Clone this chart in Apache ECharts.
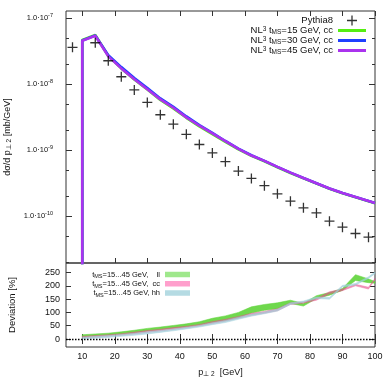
<!DOCTYPE html>
<html>
<head>
<meta charset="utf-8">
<script src="https://cdn.jsdelivr.net/npm/echarts@6/dist/echarts.min.js"></script>
<style>
html,body{margin:0;padding:0;background:#fff}
#main{width:390px;height:390px}
</style>
</head>
<body>
<div id="main"></div>
<script>
'use strict';
// Pythia8 reference points (bin centres, mb/GeV)
var pyX = [7, 14, 18, 22, 26, 30, 34, 38, 42, 46, 50, 54, 58, 62, 66, 70, 74, 78, 82, 86, 90, 94, 98];
var pyY = [3.63e-8, 4.26e-8, 2.27e-8, 1.30e-8, 8.2e-9, 5.3e-9, 3.45e-9, 2.48e-9, 1.74e-9, 1.22e-9, 9.1e-10, 6.7e-10,
    4.82e-10, 3.73e-10, 2.9e-10, 2.18e-10, 1.69e-10, 1.34e-10, 1.12e-10, 8.4e-11, 6.8e-11, 5.46e-11, 4.8e-11];

// NL3 curves, first point is the drop at the 10 GeV cut
var nlX = [10, 10, 14, 18, 22, 26, 30, 34, 38, 42, 46, 50, 54, 58, 62, 66, 70, 74, 78, 82, 86, 90, 95, 100];
var nl15 = [1e-13, 4.7e-8, 5.6e-8, 2.68e-8, 1.74e-8, 1.18e-8, 8.3e-9, 5.8e-9, 4.3e-9, 3.1e-9, 2.3e-9, 1.76e-9, 1.34e-9,
    1.03e-9, 8.2e-10, 6.8e-10, 5.5e-10, 4.5e-10, 3.75e-10, 3.13e-10, 2.61e-10, 2.22e-10, 1.87e-10, 1.57e-10];
var nl30 = [1e-13, 4.6e-8, 5.5e-8, 2.75e-8, 1.82e-8, 1.24e-8, 8.8e-9, 6.1e-9, 4.55e-9, 3.25e-9, 2.4e-9, 1.83e-9, 1.38e-9,
    1.06e-9, 8.4e-10, 6.9e-10, 5.6e-10, 4.58e-10, 3.8e-10, 3.16e-10, 2.63e-10, 2.24e-10, 1.88e-10, 1.58e-10];
var nl45 = [1e-13, 4.57e-8, 5.43e-8, 2.65e-8, 1.74e-8, 1.19e-8, 8.4e-9, 5.9e-9, 4.4e-9, 3.15e-9, 2.35e-9, 1.8e-9, 1.37e-9,
    1.05e-9, 8.3e-10, 6.9e-10, 5.6e-10, 4.57e-10, 3.8e-10, 3.16e-10, 2.63e-10, 2.24e-10, 1.88e-10, 1.58e-10];

// deviation bands [%]
var devX = [10, 14, 18, 22, 26, 30, 34, 38, 42, 46, 50, 54, 58, 62, 66, 70, 74, 78, 82, 86, 90, 94, 98, 100];
var llLo = [8, 11, 14, 18, 23, 30, 35, 41, 46, 53, 62, 70, 80, 98, 108, 114, 134, 124, 152, 165, 183, 220, 212, 210];
var llHi = [16, 19, 22, 27, 33, 40, 45, 51, 57, 65, 78, 87, 100, 121, 130, 136, 146, 134, 163, 175, 190, 242, 226, 216];
var ccLo = [4, 7, 10, 14, 19, 25, 30, 36, 42, 49, 58, 67, 78, 89, 97, 106, 130, 135, 146, 170, 182, 200, 188, 224];
var ccHi = [10, 13, 16, 20, 26, 32, 37, 43, 48, 55, 66, 74, 85, 97, 104, 114, 136, 140, 152, 178, 188, 206, 195, 228];
var hhLo = [0, 3, 6, 10, 14, 19, 25, 31, 38, 45, 54, 62, 74, 86, 95, 105, 130, 138, 152, 150, 196, 203, 228, 246];
var hhHi = [7, 10, 13, 17, 22, 27, 32, 38, 44, 51, 61, 70, 82, 93, 102, 112, 136, 143, 158, 156, 202, 209, 234, 252];

var xTicks = [10, 20, 30, 40, 50, 60, 70, 80, 90, 100];
var yMajor = [1e-10, 1e-9, 1e-8, 1e-7];
var yMinor = [2e-11, 5e-11, 2e-10, 5e-10, 2e-9, 5e-9, 2e-8, 5e-8];
var devTicks = [0, 50, 100, 150, 200, 250];

var FONT = '"Liberation Sans", Arial, sans-serif';
var CROSS = 'path://M4.35,0H5.65V4.35H10V5.65H5.65V10H4.35V5.65H0V4.35H4.35Z';
var BAR3 = 'path://M0,0H28V3H0Z';
var BAR5 = 'path://M0,0H25V5.5H0Z';

function pairs(xs, ys) {
    return xs.map(function (x, i) { return [x, ys[i]]; });
}

var subRich = {
    n: {fontSize: 9, lineHeight: 11, color: '#111'},
    s: {fontSize: 6.5, lineHeight: 7, verticalAlign: 'bottom', color: '#111'}
};

function xAxisCfg(grid, pos, labels) {
    var ax = {
        type: 'value', gridIndex: grid, position: pos, min: 5, max: 100,
        axisLine: {show: false}, splitLine: {show: false},
        axisTick: {inside: true, length: 5, customValues: xTicks, lineStyle: {color: '#333'}},
        axisLabel: {show: false}
    };
    if (labels) {
        ax.axisLabel = {show: true, customValues: xTicks, fontSize: 9, color: '#111', margin: 5, fontFamily: FONT};
        ax.name = '{n|p}{s|\u22a5 2}{n|  [GeV]}';
        ax.nameLocation = 'middle';
        ax.nameGap = 20;
        ax.nameTextStyle = {fontFamily: FONT, rich: subRich};
    }
    return ax;
}

function logAxisCfg(pos, ticks, len, labels) {
    var ax = {
        type: 'log', gridIndex: 0, position: pos, min: 1.95e-11, max: 1.29e-7,
        axisLine: {show: false}, splitLine: {show: false}, minorTick: {show: false},
        axisTick: {inside: true, length: len, customValues: ticks, lineStyle: {color: '#333'}},
        axisLabel: {show: false}
    };
    if (labels) {
        ax.axisLabel = {
            show: true, customValues: ticks, margin: 13, fontFamily: FONT,
            formatter: function (v) {
                return '{b|1.0\u00b710}{e|' + Math.round(Math.log10(v)) + '}';
            },
            rich: {
                b: {fontSize: 7.5, lineHeight: 11, color: '#111', fontFamily: FONT},
                e: {fontSize: 5.5, lineHeight: 7, verticalAlign: 'top', color: '#111', fontFamily: FONT}
            }
        };
        ax.name = '{n|d\u03c3/d p}{s|\u22a5 2}{n| [mb/GeV]}';
        ax.nameLocation = 'middle';
        ax.nameGap = 45;
        ax.nameTextStyle = {fontFamily: FONT, rich: subRich};
    }
    return ax;
}

function devAxisCfg(pos, labels) {
    var ax = {
        type: 'value', gridIndex: 1, position: pos, min: -30, max: 286,
        axisLine: {show: false}, splitLine: {show: false},
        axisTick: {inside: true, length: 5, customValues: devTicks, lineStyle: {color: '#333'}},
        axisLabel: {show: false}
    };
    if (labels) {
        ax.axisLabel = {show: true, customValues: devTicks, fontSize: 9, color: '#111', margin: 6, fontFamily: FONT};
        ax.name = 'Deviation [%]';
        ax.nameLocation = 'middle';
        ax.nameGap = 49;
        ax.nameTextStyle = {fontFamily: FONT, fontSize: 9.5, color: '#111'};
    }
    return ax;
}

// one polygon per band, lower edge and upper edge through the axis scales
function bandSeries(key, lo, hi, legendColor, fillColor, opacity) {
    return {
        name: key, type: 'custom', xAxisIndex: 2, yAxisIndex: 4,
        itemStyle: {color: legendColor},
        data: [[devX[0], lo[0]]],
        z: 3,
        renderItem: function (params, api) {
            var pts = [];
            for (var i = 0; i < devX.length; i++) {
                pts.push(api.coord([devX[i], hi[i]]));
            }
            for (var j = devX.length - 1; j >= 0; j--) {
                pts.push(api.coord([devX[j], lo[j]]));
            }
            return {
                type: 'polygon',
                shape: {points: pts},
                style: {fill: fillColor, opacity: opacity, stroke: fillColor, lineWidth: 0.6}
            };
        }
    };
}

var names = {
    'Pythia8': '{n|Pythia8}',
    'nl15': '{n|NL}{p|3}{n| t}{s|MS}{n|=15 GeV, cc}',
    'nl30': '{n|NL}{p|3}{n| t}{s|MS}{n|=30 GeV, cc}',
    'nl45': '{n|NL}{p|3}{n| t}{s|MS}{n|=45 GeV, cc}',
    'll': '{n|t}{s|MS}{n|=15...45 GeV,    ll}',
    'cc': '{n|t}{s|MS}{n|=15...45 GeV,  cc}',
    'hh': '{n|t}{s|MS}{n|=15...45 GeV, hh}'
};
function legendText(name) { return names[name]; }

var series = [
    {
        name: 'Pythia8', type: 'scatter', xAxisIndex: 0, yAxisIndex: 0,
        symbol: CROSS, symbolSize: 10, itemStyle: {color: '#000'},
        data: pairs(pyX, pyY), z: 4
    },
    {
        name: 'nl15', type: 'line', xAxisIndex: 0, yAxisIndex: 0, symbol: 'none',
        itemStyle: {color: '#55ee11'}, lineStyle: {width: 2.6, color: '#55ee11'},
        data: pairs(nlX, nl15), z: 3
    },
    {
        name: 'nl30', type: 'line', xAxisIndex: 0, yAxisIndex: 0, symbol: 'none',
        itemStyle: {color: '#1f3fff'}, lineStyle: {width: 2.6, color: '#1f3fff'},
        data: pairs(nlX, nl30), z: 3
    },
    {
        name: 'nl45', type: 'line', xAxisIndex: 0, yAxisIndex: 0, symbol: 'none',
        itemStyle: {color: '#aa33ee'}, lineStyle: {width: 2.6, color: '#aa33ee'},
        data: pairs(nlX, nl45), z: 3
    },
    bandSeries('ll', llLo, llHi, '#9fe88c', '#5fd43a', 0.9),
    bandSeries('cc', ccLo, ccHi, '#ff9fcc', '#e8508e', 0.6),
    bandSeries('hh', hhLo, hhHi, '#b5dbe3', '#9fd0dc', 0.7)
];

// zero line on the deviation panel
series[4].markLine = {
    symbol: 'none', silent: true, label: {show: false},
    lineStyle: {color: '#000', width: 1.3, type: [1.5, 1.5]},
    data: [{yAxis: 0}]
};

var legendRich = {
    n: {fontSize: 9.5, lineHeight: 10, color: '#111', fontFamily: FONT},
    p: {fontSize: 6.5, lineHeight: 6, verticalAlign: 'top', color: '#111', fontFamily: FONT},
    s: {fontSize: 6.5, lineHeight: 6, verticalAlign: 'bottom', color: '#111', fontFamily: FONT}
};
var bandRich = {
    n: {fontSize: 7.5, lineHeight: 10.5, color: '#111', fontFamily: FONT},
    s: {fontSize: 5.5, lineHeight: 6, verticalAlign: 'bottom', color: '#111', fontFamily: FONT}
};

var option = {
    animation: false,
    backgroundColor: '#fff',
    textStyle: {fontFamily: FONT},
    grid: [
        {left: 66, right: 15, top: 11, height: 252, show: true, borderColor: '#333', borderWidth: 1,
            backgroundColor: 'transparent', outerBoundsMode: 'none'},
        {left: 66, right: 15, top: 263, height: 84, show: true, borderColor: '#333', borderWidth: 1,
            backgroundColor: 'transparent', outerBoundsMode: 'none'}
    ],
    xAxis: [
        xAxisCfg(0, 'bottom', false),
        xAxisCfg(0, 'top', false),
        xAxisCfg(1, 'bottom', true),
        xAxisCfg(1, 'top', false)
    ],
    yAxis: [
        logAxisCfg('left', yMajor, 6, true),
        logAxisCfg('left', yMinor, 3, false),
        logAxisCfg('right', yMajor, 6, false),
        logAxisCfg('right', yMinor, 3, false),
        devAxisCfg('left', true),
        devAxisCfg('right', false)
    ],
    legend: [
        {
            orient: 'vertical', right: 24, top: 15.5, align: 'right', padding: 0,
            itemWidth: 28, itemHeight: 10, itemGap: 0, selectedMode: false,
            itemStyle: {borderWidth: 0},
            data: [
                {name: 'Pythia8', icon: CROSS},
                {name: 'nl15', icon: BAR3},
                {name: 'nl30', icon: BAR3},
                {name: 'nl45', icon: BAR3}
            ],
            formatter: legendText,
            textStyle: {width: 120, align: 'right', rich: legendRich}
        },
        {
            orient: 'vertical', right: 200, top: 270.5, align: 'right', padding: 0,
            itemWidth: 25, itemHeight: 10, itemGap: 0, selectedMode: false,
            itemStyle: {borderWidth: 0},
            data: [
                {name: 'll', icon: BAR5},
                {name: 'cc', icon: BAR5},
                {name: 'hh', icon: BAR5}
            ],
            formatter: legendText,
            textStyle: {width: 80, align: 'right', rich: bandRich}
        }
    ],
    series: series
};

var myChart = echarts.init(document.getElementById('main'));
myChart.setOption(option);
</script>
</body>
</html>
